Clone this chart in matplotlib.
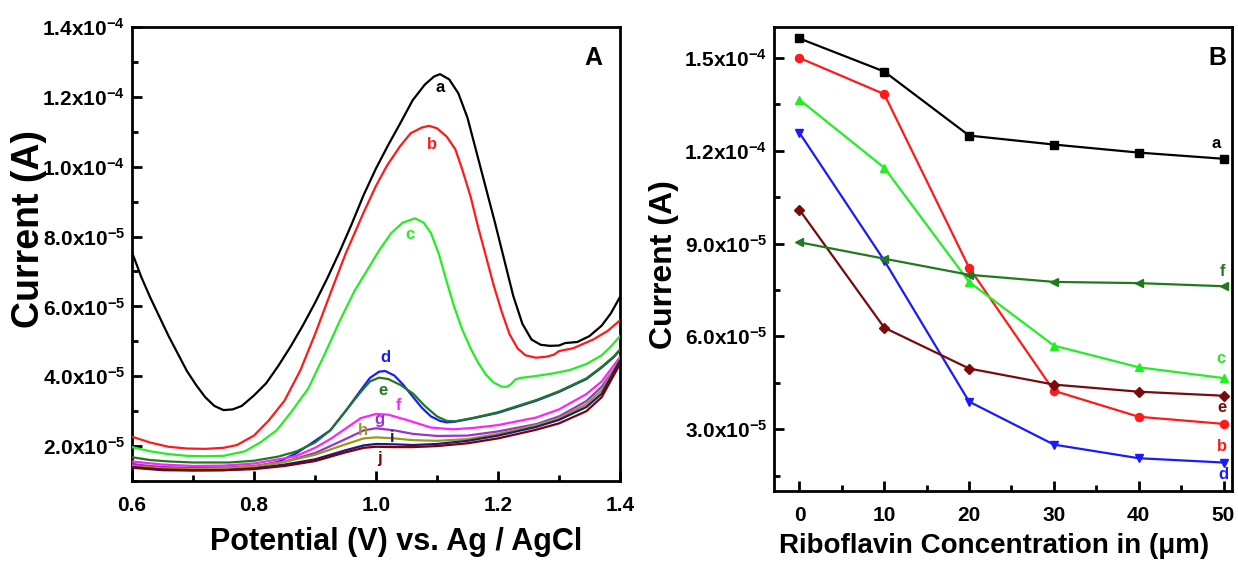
import matplotlib
matplotlib.use("Agg")
import matplotlib.pyplot as plt
import numpy as np

plt.rcParams['font.family'] = ['Liberation Sans', 'DejaVu Sans']
plt.rcParams['font.weight'] = 'bold'
plt.rcParams['mathtext.fontset'] = 'custom'
plt.rcParams['mathtext.rm'] = 'Liberation Sans:bold'
plt.rcParams['mathtext.bf'] = 'Liberation Sans:bold'
plt.rcParams['mathtext.default'] = 'rm'

# ---------------- Panel A data (potential V, current in 1e-5 A) ----------------
a_v = [0.600, 0.615, 0.630, 0.645, 0.660, 0.675, 0.690, 0.705, 0.720, 0.735, 0.750, 0.765, 0.780,
       0.800, 0.820, 0.840, 0.860, 0.880, 0.900, 0.920, 0.940, 0.960, 0.980, 1.000, 1.020, 1.040,
       1.060, 1.080, 1.095, 1.105, 1.120, 1.135, 1.150, 1.165, 1.180, 1.195, 1.210, 1.225, 1.240,
       1.255, 1.270, 1.285, 1.300, 1.310, 1.330, 1.350, 1.370, 1.385, 1.400]
a_i = [7.55, 6.85, 6.25, 5.70, 5.15, 4.65, 4.15, 3.75, 3.40, 3.15, 3.03, 3.05, 3.15,
       3.45, 3.80, 4.30, 4.85, 5.45, 6.10, 6.80, 7.55, 8.35, 9.20, 9.95, 10.62, 11.25,
       11.90, 12.35, 12.58, 12.65, 12.50, 12.10, 11.40, 10.40, 9.40, 8.40, 7.35, 6.30, 5.50,
       5.05, 4.90, 4.87, 4.88, 4.95, 4.98, 5.15, 5.45, 5.80, 6.27]

b_v = [0.600, 0.630, 0.660, 0.690, 0.720, 0.750, 0.772, 0.800, 0.824, 0.850, 0.876, 0.900, 0.928,
       0.950, 0.980, 1.000, 1.018, 1.040, 1.057, 1.075, 1.087, 1.100, 1.116, 1.130, 1.141, 1.155,
       1.167, 1.180, 1.193, 1.206, 1.219, 1.232, 1.245, 1.262, 1.280, 1.292, 1.300, 1.323, 1.356,
       1.380, 1.400]
b_i = [2.27, 2.10, 1.98, 1.93, 1.92, 1.95, 2.03, 2.30, 2.73, 3.30, 4.17, 5.20, 6.50,
       7.50, 8.70, 9.45, 10.03, 10.60, 10.96, 11.12, 11.17, 11.10, 10.86, 10.50, 9.94, 9.15,
       8.30, 7.45, 6.60, 5.85, 5.20, 4.80, 4.60, 4.53, 4.56, 4.62, 4.72, 4.80, 5.05,
       5.30, 5.60]

c_v = [0.600, 0.630, 0.660, 0.690, 0.720, 0.750, 0.785, 0.810, 0.837, 0.860, 0.889, 0.915, 0.941,
       0.965, 0.986, 1.005, 1.025, 1.044, 1.064, 1.078, 1.090, 1.103, 1.116, 1.128, 1.141, 1.155,
       1.167, 1.180, 1.193, 1.206, 1.215, 1.222, 1.228, 1.236, 1.260, 1.290, 1.318, 1.345, 1.370,
       1.385, 1.400]
c_i = [1.97, 1.85, 1.77, 1.72, 1.71, 1.72, 1.85, 2.10, 2.45, 2.95, 3.65, 4.60, 5.60,
       6.45, 7.05, 7.60, 8.10, 8.40, 8.52, 8.40, 8.10, 7.50, 6.70, 6.00, 5.35, 4.80,
       4.40, 4.05, 3.82, 3.70, 3.70, 3.78, 3.90, 3.95, 4.00, 4.08, 4.18, 4.35, 4.60,
       4.85, 5.15]

d_v = [0.600, 0.620, 0.650, 0.700, 0.750, 0.800, 0.840, 0.870, 0.900, 0.925, 0.950, 0.975, 0.990,
       1.005, 1.015, 1.030, 1.045, 1.061, 1.075, 1.090, 1.105, 1.116, 1.130, 1.160, 1.200, 1.263,
       1.300, 1.345, 1.370, 1.390, 1.400]
d_i = [1.50, 1.40, 1.34, 1.32, 1.33, 1.40, 1.55, 1.80, 2.15, 2.45, 3.00, 3.60, 3.95,
       4.13, 4.15, 4.02, 3.75, 3.40, 3.10, 2.85, 2.72, 2.68, 2.70, 2.80, 2.95, 3.30,
       3.55, 3.92, 4.25, 4.55, 4.75]

e_v = [0.600, 0.630, 0.660, 0.700, 0.760, 0.800, 0.840, 0.870, 0.900, 0.925, 0.950, 0.975, 0.990,
       1.005, 1.020, 1.040, 1.061, 1.080, 1.100, 1.116, 1.130, 1.160, 1.200, 1.263, 1.300, 1.345,
       1.370, 1.390, 1.400]
e_i = [1.68, 1.60, 1.56, 1.53, 1.53, 1.58, 1.70, 1.85, 2.10, 2.45, 3.00, 3.55, 3.85,
       3.96, 3.92, 3.75, 3.50, 3.15, 2.85, 2.72, 2.71, 2.81, 2.97, 3.32, 3.57, 3.94,
       4.27, 4.57, 4.77]

f_v = [0.600, 0.650, 0.700, 0.750, 0.800, 0.850, 0.870, 0.900, 0.925, 0.950, 0.975, 1.000, 1.020,
       1.050, 1.090, 1.126, 1.160, 1.200, 1.263, 1.300, 1.345, 1.370, 1.400]
f_i = [1.56, 1.47, 1.43, 1.44, 1.50, 1.65, 1.72, 1.95, 2.20, 2.50, 2.80, 2.92, 2.90,
       2.75, 2.53, 2.48, 2.52, 2.60, 2.82, 3.05, 3.49, 3.85, 4.55]

g_v = [0.600, 0.650, 0.700, 0.750, 0.800, 0.850, 0.900, 0.950, 0.980, 1.000, 1.030, 1.060, 1.100,
       1.150, 1.200, 1.263, 1.300, 1.345, 1.370, 1.400]
g_i = [1.48, 1.40, 1.37, 1.38, 1.43, 1.55, 1.80, 2.20, 2.45, 2.51, 2.45, 2.35, 2.29,
       2.30, 2.42, 2.63, 2.85, 3.29, 3.70, 4.45]

h_v = g_v
h_i = [1.43, 1.36, 1.34, 1.36, 1.42, 1.55, 1.75, 2.05, 2.22, 2.25, 2.22, 2.17, 2.15,
       2.20, 2.35, 2.60, 2.80, 3.20, 3.60, 4.50]

i_v = g_v
i_i = [1.38, 1.31, 1.30, 1.31, 1.36, 1.47, 1.62, 1.88, 2.02, 2.06, 2.05, 2.03, 2.06,
       2.15, 2.30, 2.55, 2.75, 3.12, 3.50, 4.45]

j_v = g_v
j_i = [1.40, 1.33, 1.31, 1.31, 1.34, 1.43, 1.57, 1.82, 1.95, 1.98, 1.97, 1.97, 2.00,
       2.08, 2.22, 2.47, 2.65, 3.00, 3.40, 4.35]

curve_names = ['a', 'b', 'c', 'd', 'e', 'f', 'g', 'h', 'i', 'j']
curve_colors = ['#000000', '#ff1a1a', '#22ee22', '#1a1aff', '#1f7a1f', '#ff22ff',
                '#9933cc', '#99991a', '#1a1a80', '#800000']
# label anchor positions (V, current 1e-5 A)
label_pos_A = [(1.105, 12.26), (1.092, 10.63), (1.056, 8.06), (1.015, 4.53), (1.012, 3.58),
               (1.037, 3.15), (1.005, 2.75), (0.979, 2.44), (1.026, 2.25), (1.005, 1.63)]

A_yticks = [2e-5, 4e-5, 6e-5, 8e-5, 1e-4, 1.2e-4, 1.4e-4]
A_yticklabels = [r'2.0x10$^{-5}$', r'4.0x10$^{-5}$', r'6.0x10$^{-5}$', r'8.0x10$^{-5}$',
                 r'1.0x10$^{-4}$', r'1.2x10$^{-4}$', r'1.4x10$^{-4}$']
A_xticks = [0.6, 0.8, 1.0, 1.2, 1.4]
A_xticklabels = ['0.6', '0.8', '1.0', '1.2', '1.4']

# ---------------- Panel B data ----------------
conc = [0, 10, 20, 30, 40, 50]
B_a = [1.563e-4, 1.456e-4, 1.249e-4, 1.220e-4, 1.194e-4, 1.174e-4]
B_b = [1.500e-4, 1.383e-4, 8.22e-5, 4.24e-5, 3.40e-5, 3.17e-5]
B_c = [1.365e-4, 1.145e-4, 7.76e-5, 5.70e-5, 5.00e-5, 4.65e-5]
B_d = [1.258e-4, 8.45e-5, 3.89e-5, 2.50e-5, 2.06e-5, 1.92e-5]
B_e = [1.009e-4, 6.28e-5, 4.96e-5, 4.44e-5, 4.21e-5, 4.08e-5]
B_f = [9.04e-5, 8.51e-5, 7.99e-5, 7.76e-5, 7.72e-5, 7.62e-5]
B_names = ['a', 'b', 'c', 'd', 'e', 'f']
B_colors = ['#000000', '#ff1a1a', '#22ee22', '#1a1aff', '#7a0a0a', '#1f7a1f']
B_markers = ['s', 'o', '^', 'v', 'D', '<']
label_pos_B = [(49.1, 1.224e-4), (49.8, 2.43e-5), (49.7, 5.27e-5), (50.0, 1.53e-5),
               (49.8, 3.69e-5), (49.9, 8.11e-5)]
B_yticks = [3e-5, 6e-5, 9e-5, 1.2e-4, 1.5e-4]
B_yticklabels = [r'3.0x10$^{-5}$', r'6.0x10$^{-5}$', r'9.0x10$^{-5}$',
                 r'1.2x10$^{-4}$', r'1.5x10$^{-4}$']
B_xticks = [0, 10, 20, 30, 40, 50]

fig = plt.figure(figsize=(12.38, 5.65), dpi=100)
axA = fig.add_axes([132/1238, 84/565, 488/1238, 454/565])
axB = fig.add_axes([774/1238, 74/565, 458/1238, 464/565])


def style_axis(ax, xpad):
    for s in ax.spines.values():
        s.set_linewidth(2.0)
    ax.tick_params(which='major', direction='in', length=7, width=2, labelsize=15,
                   top=False, right=False)
    ax.tick_params(axis='y', which='major', pad=5)
    ax.tick_params(axis='x', which='major', pad=xpad)
    ax.tick_params(which='minor', direction='in', length=4, width=2, top=False, right=False)


# Panel A
A_v = [a_v, b_v, c_v, d_v, e_v, f_v, g_v, h_v, i_v, j_v]
A_i = [a_i, b_i, c_i, d_i, e_i, f_i, g_i, h_i, i_i, j_i]
order = [9, 8, 7, 6, 5, 3, 4, 2, 1, 0]
for k in order:
    axA.plot(A_v[k], np.array(A_i[k]) * 1e-5, color=curve_colors[k], lw=1.6,
             solid_joinstyle='round', zorder=3 + k * 0.1)
for k, name in enumerate(curve_names):
    x, y = label_pos_A[k]
    axA.text(x, y * 1e-5, name, color=curve_colors[k], fontsize=12, fontweight='bold',
             ha='center', va='center', zorder=10)
axA.set_xlim(0.6, 1.4)
axA.set_ylim(1.0e-5, 1.4e-4)
axA.set_xticks(A_xticks)
axA.set_xticklabels(A_xticklabels)
axA.set_xticks([0.7, 0.9, 1.1, 1.3], minor=True)
axA.set_yticks(A_yticks)
axA.set_yticklabels(A_yticklabels)
axA.set_yticks([1e-5, 3e-5, 5e-5, 7e-5, 9e-5, 1.1e-4, 1.3e-4], minor=True)
style_axis(axA, 11)
axA.set_xlabel('Potential (V) vs. Ag / AgCl', fontsize=22, fontweight='bold')
axA.xaxis.set_label_coords(0.541, -0.101)
axA.set_ylabel('Current (A)', fontsize=27, fontweight='bold')
axA.yaxis.set_label_coords(-0.174, 0.555)
axA.text(0.945, 0.932, 'A', transform=axA.transAxes, fontsize=18, fontweight='bold',
         ha='center', va='center')

# Panel B
B_series = [B_a, B_b, B_c, B_d, B_e, B_f]
for k, ser in enumerate(B_series):
    axB.plot(conc, ser, color=B_colors[k], lw=1.6, marker=B_markers[k],
             markersize=5.8 if B_markers[k] != 'D' else 5.0, zorder=3)
for k, name in enumerate(B_names):
    x, y = label_pos_B[k]
    axB.text(x, y, name, color=B_colors[k], fontsize=12, fontweight='bold',
             ha='center', va='center', zorder=10)
axB.set_xlim(-3, 51)
axB.set_ylim(1.0e-5, 1.6e-4)
axB.set_xticks(B_xticks)
axB.set_xticklabels([str(v) for v in B_xticks])
axB.set_xticks([5, 15, 25, 35, 45], minor=True)
axB.set_yticks(B_yticks)
axB.set_yticklabels(B_yticklabels)
axB.set_yticks([1.5e-5, 4.5e-5, 7.5e-5, 1.05e-4, 1.35e-4], minor=True)
style_axis(axB, 11)
axB.set_xlabel('Riboflavin Concentration in (\u03bcm)', fontsize=20, fontweight='bold')
axB.xaxis.set_label_coords(0.48, -0.0905)
axB.set_ylabel('Current (A)', fontsize=23, fontweight='bold')
axB.yaxis.set_label_coords(-0.207, 0.487)
axB.text(0.969, 0.933, 'B', transform=axB.transAxes, fontsize=18, fontweight='bold',
         ha='center', va='center')

fig.savefig('out.png', dpi=100)
